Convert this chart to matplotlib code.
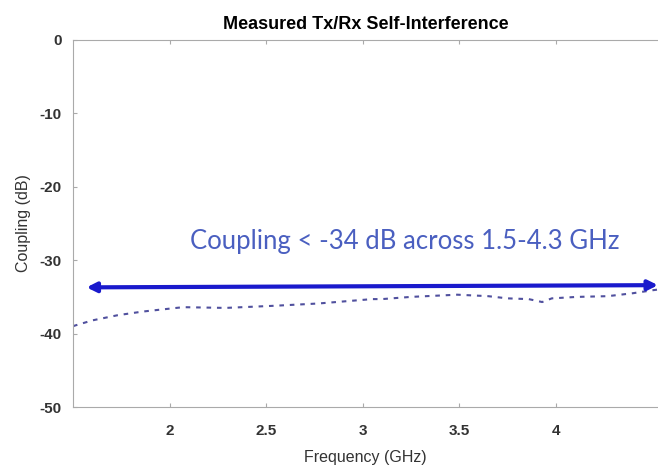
import numpy as np
import matplotlib.pyplot as plt

# measured coupling
freq = [1.5, 1.51, 1.60, 1.73, 1.86, 2.07, 2.29, 2.55, 2.77, 3.05, 3.10, 3.25, 3.49,
        3.65, 3.75, 3.86, 3.93, 3.98, 4.11, 4.27, 4.40, 4.50, 4.53]
coupling = [-39.0, -38.9, -38.2, -37.5, -37.0, -36.4, -36.5, -36.2, -35.9, -35.3, -35.3,
            -35.0, -34.7, -34.9, -35.2, -35.3, -35.7, -35.2, -35.0, -34.9, -34.5, -34.1, -34.0]
arrow_x = [1.57, 4.53]
arrow_y = [-33.7, -33.4]
note = 'Coupling < -34 dB across 1.5-4.3 GHz'
xticks = [2, 2.5, 3, 3.5, 4]
yticks = [0, -10, -20, -30, -40, -50]

plt.rcParams['font.family'] = ['Liberation Sans', 'DejaVu Sans']
plt.rcParams['axes.unicode_minus'] = False

fig = plt.figure(figsize=(6.58, 4.70), dpi=100)
ax = fig.add_axes([0.111, 0.134, 0.889, 0.781])

ax.plot(freq, coupling, linestyle=(0, (2.2, 2.8)), color='#50509e', linewidth=1.5)
ax.annotate('', xy=(arrow_x[0], arrow_y[0]), xytext=(arrow_x[1], arrow_y[1]),
            arrowprops=dict(arrowstyle='<|-|>', color='#1a1acc', lw=3,
                            mutation_scale=14, shrinkA=0, shrinkB=0))
ax.text(3.22, -27.4, note, color='#4a5fc0', fontsize=18.5, family=['Lato', 'DejaVu Sans'],
        ha='center', va='center')

ax.set_xlim(1.5, 4.53)
ax.set_ylim(-50, 0)
ax.set_xticks(xticks)
ax.set_xticklabels([str(t) for t in xticks])
ax.set_yticks(yticks)
ax.set_yticklabels([str(t) for t in yticks])
ax.tick_params(direction='in', length=3, colors='#aaaaaa', labelcolor='#333333',
               labelsize=11, top=True)
ax.tick_params(axis='x', pad=12)
ax.tick_params(axis='y', pad=8)
for lab in ax.get_xticklabels() + ax.get_yticklabels():
    lab.set_fontweight('bold')
for s in ['left', 'bottom', 'top']:
    ax.spines[s].set_color('#aaaaaa')
ax.spines['right'].set_visible(False)

ax.set_xlabel('Frequency (GHz)', fontsize=11.5, color='#333333', labelpad=9)
ax.set_ylabel('Coupling (dB)', fontsize=11.5, color='#333333', labelpad=6)
ax.set_title('Measured Tx/Rx Self-Interference', fontsize=13, fontweight='bold', pad=8)

fig.savefig('out.png', dpi=100)
